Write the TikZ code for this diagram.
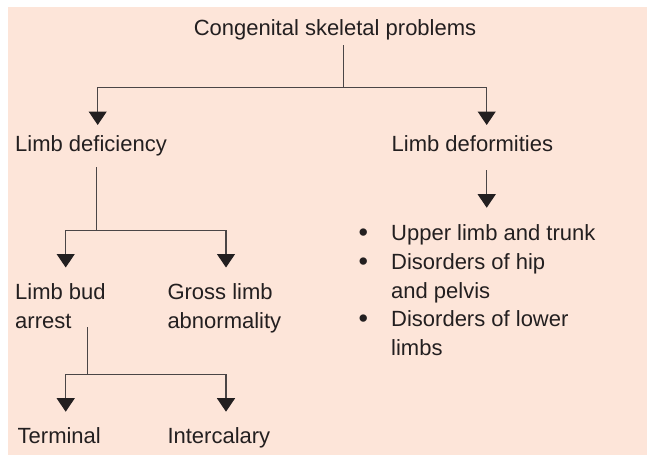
\documentclass[tikz,border=0pt]{standalone}
\usepackage{fontspec}
\setmainfont{Liberation Sans}
\usetikzlibrary{arrows.meta}
\definecolor{peach}{HTML}{FDE5D9}
\definecolor{ink}{HTML}{231F20}
\definecolor{linec}{HTML}{4A4546}
\begin{document}
\begin{tikzpicture}[x=1pt,y=-1pt,
  lbl/.style={anchor=base west, inner sep=0pt, text=ink, font=\fontsize{22}{29}\selectfont, align=left},
  bul/.style={anchor=base, inner sep=0pt, text=ink, font=\fontsize{27}{29}\selectfont},
  conn/.style={draw=linec, line width=1.1pt},
  arr/.style={conn, -{Triangle[width=18pt,length=13.5pt,color=ink]}}]
\useasboundingbox (0,0) rectangle (650,455);
\fill[white] (0,0) rectangle (650,455);
\fill[peach] (8,7) rectangle (647,455);
% texts (for two-line nodes the base anchor is the last line's baseline)
\node[anchor=base, inner sep=0pt, text=ink, font=\fontsize{22}{29}\selectfont] (title) at (335,35) {Congenital skeletal problems};
\node[lbl] (defic) at (15,151.7) {Limb deficiency};
\node[lbl] (deform) at (391.5,151.7) {Limb deformities};
\node[lbl] (bud) at (15,328.3) {Limb bud\\arrest};
\node[lbl] (gross) at (167.3,328.3) {Gross limb\\abnormality};
\node[lbl] (term) at (17.5,443.3) {Terminal};
\node[lbl] (inter) at (167.3,443.3) {Intercalary};
\node[lbl] (u1) at (391,240) {Upper limb and trunk};
\node[lbl] (u2) at (391,298.3) {Disorders of hip\\and pelvis};
\node[lbl] (u3) at (391,355.7) {Disorders of lower\\limbs};
\node[bul] (b1) at (363.3,241) {•};
\node[bul] (b2) at (363.3,270) {•};
\node[bul] (b3) at (363.3,327.7) {•};
% connector points
\coordinate (t0) at (343.3,45);
\coordinate (t1) at (343.3,87.5);
\coordinate (a1) at (97.7,125);
\coordinate (a2) at (486.7,125);
\coordinate (d0) at (96.7,167);
\coordinate (d1) at (96.7,230.7);
\coordinate (a3) at (65.7,267.5);
\coordinate (a4) at (226,267.5);
\coordinate (e0) at (87.3,327);
\coordinate (e1) at (87.3,374.3);
\coordinate (a5) at (65.7,411.7);
\coordinate (a6) at (226,411.7);
\coordinate (f0) at (486.7,170);
\coordinate (f1) at (486.7,207.7);
% connectors
\draw[conn] (t0) -- (t1);
\draw[arr] (t1) -| (a1);
\draw[arr] (t1) -| (a2);
\draw[conn] (d0) -- (d1);
\draw[arr] (d1) -| (a3);
\draw[arr] (d1) -| (a4);
\draw[conn] (e0) -- (e1);
\draw[arr] (e1) -| (a5);
\draw[arr] (e1) -| (a6);
\draw[arr] (f0) -- (f1);
\end{tikzpicture}
\end{document}
